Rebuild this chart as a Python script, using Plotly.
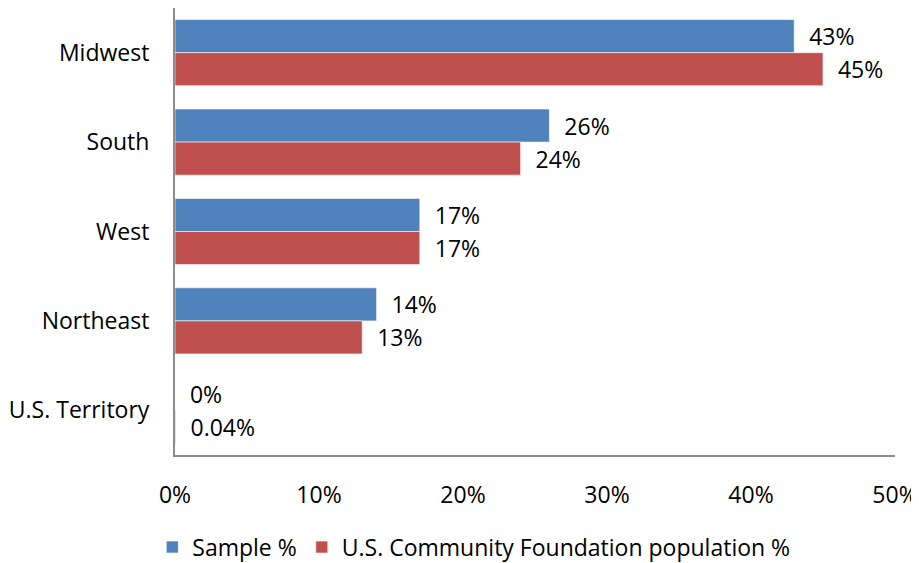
import plotly.graph_objects as go

regions = ["Midwest", "South", "West", "Northeast", "U.S. Territory"]
sample_pct = [43, 26, 17, 14, 0]
population_pct = [45, 24, 17, 13, 0.04]
sample_labels = ["43%", "26%", "17%", "14%", "0%"]
population_labels = ["45%", "24%", "17%", "13%", "0.04%"]
tick_vals = [0, 10, 20, 30, 40, 50]
tick_text = ["0%", "10%", "20%", "30%", "40%", "50%"]

FONT = "Open Sans, Liberation Sans, sans-serif"

fig = go.Figure()
fig.add_trace(go.Bar(
    y=regions, x=sample_pct, orientation="h", name="Sample %",
    marker=dict(color="#4F81BD", line=dict(color="rgba(255,255,255,0.6)", width=1)),
    text=sample_labels, texttemplate="  %{text}", textposition="outside", cliponaxis=False,
    textfont=dict(size=23, color="#000000"),
))
fig.add_trace(go.Bar(
    y=regions, x=population_pct, orientation="h",
    name="U.S. Community Foundation population %",
    marker=dict(color="#C0504D", line=dict(color="rgba(255,255,255,0.6)", width=1)),
    text=population_labels, texttemplate="  %{text}", textposition="outside", cliponaxis=False,
    textfont=dict(size=23, color="#000000"),
))

# page body adds an 8px offset, so the figure is 8px smaller than the window
fig.update_layout(
    width=911, height=555,
    barmode="group", bargap=0.26, bargroupgap=0,
    plot_bgcolor="white", paper_bgcolor="white",
    font=dict(family=FONT, size=23, color="#000000"),
    margin=dict(l=167, r=24, t=0, b=108, autoexpand=False),
    uniformtext=dict(minsize=20, mode="show"),
    legend=dict(orientation="h", x=0.415, xanchor="center", y=-0.206, yanchor="middle",
                font=dict(size=23), itemwidth=30, traceorder="normal"),
    xaxis=dict(range=[0, 50], tickvals=tick_vals, ticktext=tick_text,
               showgrid=False, zeroline=False, showline=True, linecolor="#8C8C8C",
               linewidth=2, ticks="", ticklabelstandoff=18, tickfont=dict(size=23)),
    yaxis=dict(autorange="reversed", showgrid=False, showline=True,
               linecolor="#8C8C8C", linewidth=2, ticks="", ticklabelstandoff=19,
               tickfont=dict(size=23)),
)

fig.write_html("out.html")
